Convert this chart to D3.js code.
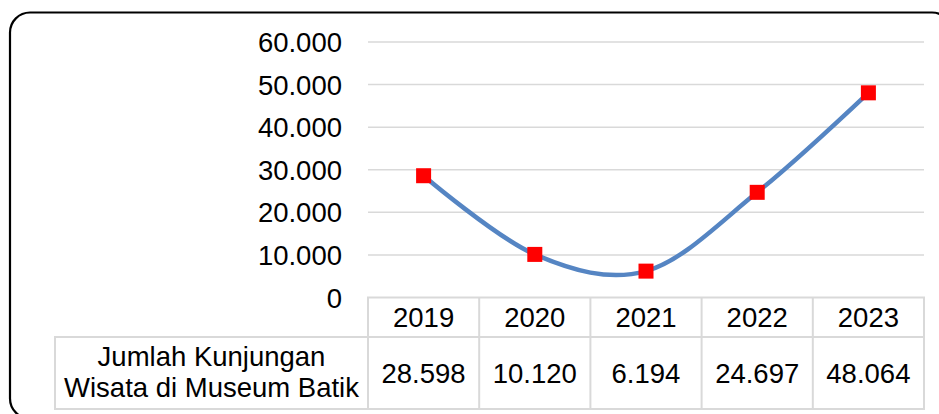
<!DOCTYPE html>
<html>
<head>
<meta charset="utf-8">
<script src="https://cdn.jsdelivr.net/npm/d3@7"></script>
<style>
  body { margin: 0; background: #fff; }
  text { font-family: "Liberation Sans", Arial, sans-serif; fill: #000; }
</style>
</head>
<body>
<svg id="chart" width="939" height="414"></svg>
<script>
// data
const years = ["2019", "2020", "2021", "2022", "2023"]
const visits = [28598, 10120, 6194, 24697, 48064]
const visitLabels = ["28.598", "10.120", "6.194", "24.697", "48.064"]
const yTicks = [0, 10000, 20000, 30000, 40000, 50000, 60000]
const seriesName = ["Jumlah Kunjungan", "Wisata di Museum Batik"]

const svg = d3.select("#chart")
const fontSize = 27.5
const fmt = v => v === 0 ? "0" : d3.format(",")(v).replace(/,/g, ".")

// outer rounded frame
svg.append("rect")
  .attr("x", 10).attr("y", 12.5)
  .attr("width", 942).attr("height", 406)
  .attr("rx", 20).attr("ry", 20)
  .style("fill", "none")
  .style("stroke", "#000")
  .style("stroke-width", 2.2)

// scales
let x = d3.scaleBand().domain(years).range([368, 924])
let y = d3.scaleLinear().domain([0, 60000]).range([297.5, 42])

// gridlines
svg.append("g")
  .selectAll("line")
  .data(yTicks.filter(d => d > 0))
  .enter()
  .append("line")
  .attr("x1", 368).attr("x2", 924)
  .attr("y1", d => y(d)).attr("y2", d => y(d))
  .style("stroke", "#d9d9d9")
  .style("stroke-width", 1.5)

// y axis labels
let yAxis = d3.axisLeft(y).tickValues(yTicks).tickFormat(fmt).tickSize(0).tickPadding(0)
let gy = svg.append("g").attr("transform", "translate(342,0)").call(yAxis)
gy.select(".domain").remove()
gy.selectAll("text")
  .style("font-size", fontSize + "px")
  .style("font-family", "Liberation Sans, Arial, sans-serif")
  .attr("fill", "#000")
  .attr("dy", "0.35em")

// data table
const rowTop = 297.5, rowMid = 337, rowBot = 409
const grid = svg.append("g")
  .style("stroke", "#d9d9d9")
  .style("stroke-width", 2)
  .style("fill", "none")

grid.append("rect").attr("x", 368).attr("y", rowTop).attr("width", 556).attr("height", rowMid - rowTop)
grid.append("rect").attr("x", 55).attr("y", rowMid).attr("width", 869).attr("height", rowBot - rowMid)
grid.selectAll(".col")
  .data(years.slice(1))
  .enter()
  .append("line")
  .attr("class", "col")
  .attr("x1", d => x(d)).attr("x2", d => x(d))
  .attr("y1", rowTop).attr("y2", rowBot)
grid.append("line").attr("x1", 368).attr("x2", 368).attr("y1", rowTop).attr("y2", rowBot)

svg.append("g")
  .selectAll("text")
  .data(years)
  .enter()
  .append("text")
  .attr("x", d => x(d) + x.bandwidth() / 2)
  .attr("y", (rowTop + rowMid) / 2)
  .attr("dy", "0.35em")
  .attr("text-anchor", "middle")
  .style("font-size", fontSize + "px")
  .text(d => d)

svg.append("g")
  .selectAll("text")
  .data(visitLabels)
  .enter()
  .append("text")
  .attr("x", (d, i) => x(years[i]) + x.bandwidth() / 2)
  .attr("y", (rowMid + rowBot) / 2)
  .attr("dy", "0.35em")
  .attr("text-anchor", "middle")
  .style("font-size", fontSize + "px")
  .text(d => d)

svg.append("text")
  .attr("x", (55 + 368) / 2)
  .attr("text-anchor", "middle")
  .style("font-size", fontSize + "px")
  .selectAll("tspan")
  .data(seriesName)
  .enter()
  .append("tspan")
  .attr("x", (55 + 368) / 2)
  .attr("y", (d, i) => 366 + i * 31)
  .text(d => d)

// smoothed line
let pts = years.map((yr, i) => [x(yr) + x.bandwidth() / 2, y(visits[i])])
let line = d3.line().curve(d3.curveCardinal.tension(0))
svg.append("path")
  .attr("d", line(pts))
  .style("fill", "none")
  .style("stroke", "#5585c3")
  .style("stroke-width", 4.5)
  .style("stroke-linecap", "round")

// markers
const m = 15
svg.append("g")
  .selectAll("rect")
  .data(pts)
  .enter()
  .append("rect")
  .attr("x", d => d[0] - m / 2)
  .attr("y", d => d[1] - m / 2)
  .attr("width", m).attr("height", m)
  .style("fill", "#ff0000")
</script>
</body>
</html>
